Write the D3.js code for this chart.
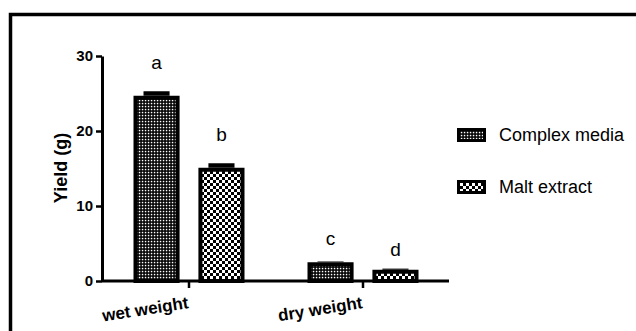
<!DOCTYPE html>
<html lang="en">
<head>
<meta charset="UTF-8">
<title>Yield</title>
<script src="https://cdn.jsdelivr.net/npm/d3@7"></script>
<style>
  body { margin: 0; background: #fff; }
  text { font-family: "Liberation Sans", Arial, sans-serif; }
</style>
</head>
<body>
<script>
// data
var groups = ["wet weight", "dry weight"];
var series = ["Complex media", "Malt extract"];
var complexVals = [24.7, 2.5];
var maltVals = [15.1, 1.5];
var complexErr = [0.6, 0.1];
var maltErr = [0.6, 0.15];
var letters = [["a", "c"], ["b", "d"]];
var yTicks = [0, 10, 20, 30];

var W = 636, H = 331;

var svg = d3.select("body").append("svg")
  .attr("width", W).attr("height", H);

var defs = svg.append("defs");

// fine dot pattern (Complex media)
var p1 = defs.append("pattern").attr("id", "dots")
  .attr("patternUnits", "userSpaceOnUse").attr("width", 3).attr("height", 3);
p1.append("rect").attr("width", 3).attr("height", 3).attr("fill", "#000");
p1.append("rect").attr("x", 0.8).attr("y", 0.8).attr("width", 1.5).attr("height", 1.5).attr("fill", "#fff");

// checkerboard (Malt extract)
var p2 = defs.append("pattern").attr("id", "checks")
  .attr("patternUnits", "userSpaceOnUse").attr("width", 6).attr("height", 6);
p2.append("rect").attr("width", 6).attr("height", 6).attr("fill", "#000");
p2.append("rect").attr("x", 0).attr("y", 0).attr("width", 3).attr("height", 3).attr("fill", "#fff");
p2.append("rect").attr("x", 3).attr("y", 3).attr("width", 3).attr("height", 3).attr("fill", "#fff");

var fills = ["url(#dots)", "url(#checks)"];

// outer frame
svg.append("rect")
  .attr("x", 10.5).attr("y", 14.5)
  .attr("width", 700).attr("height", 400)
  .attr("fill", "none").attr("stroke", "#000").attr("stroke-width", 3.5);

var y = d3.scaleLinear().domain([0, 30]).range([281, 56]);
var x0 = d3.scalePoint().domain(groups).range([189, 363]);
var x1 = d3.scaleBand().domain(series).range([-55.5, 55.5]).paddingInner(0.29);

var vals = [complexVals, maltVals];
var errs = [complexErr, maltErr];

var bars = [];
series.forEach(function(s, si) {
  groups.forEach(function(g, gi) {
    bars.push({ s: s, si: si, g: g, gi: gi, v: vals[si][gi], e: errs[si][gi], l: letters[si][gi] });
  });
});

var sw = 4;
var bx = function(d) { return x0(d.g) + x1(d.s); };

// error bars
svg.selectAll(".err").data(bars).enter().append("rect")
  .attr("x", function(d) { return bx(d) + 10; })
  .attr("width", x1.bandwidth() - 20)
  .attr("y", function(d) { return y(d.v + d.e); })
  .attr("height", function(d) { return y(d.v) - y(d.v + d.e); })
  .attr("fill", "#000");

svg.selectAll(".bar").data(bars).enter().append("rect")
  .attr("x", function(d) { return bx(d) + sw / 2; })
  .attr("width", x1.bandwidth() - sw)
  .attr("y", function(d) { return y(d.v) + sw / 2; })
  .attr("height", function(d) { return y(0) - y(d.v) - sw / 2; })
  .attr("fill", function(d) { return fills[d.si]; })
  .attr("stroke", "#000").attr("stroke-width", sw);

// letters above bars (gap from the error bar top)
var letterGap = [[22, 17], [22, 13]];
svg.selectAll(".lab").data(bars).enter().append("text")
  .attr("x", function(d) { return bx(d) + x1.bandwidth() / 2; })
  .attr("y", function(d) { return y(d.v + d.e) - letterGap[d.si][d.gi]; })
  .attr("text-anchor", "middle")
  .attr("font-size", 19)
  .text(function(d) { return d.l; });

// y axis
var yAxis = svg.append("g").attr("transform", "translate(102,0)")
  .call(d3.axisLeft(y).tickValues(yTicks).tickSize(6).tickPadding(3).tickSizeOuter(0));
yAxis.select(".domain").attr("stroke-width", 3);
yAxis.selectAll(".tick line").attr("stroke-width", 2.5);
yAxis.selectAll(".tick text")
  .attr("font-family", "Liberation Sans, Arial, sans-serif")
  .attr("font-size", 15).attr("font-weight", "bold").attr("fill", "#000");

// x axis
var xAxisScale = d3.scaleLinear().domain([0, 1]).range([102, 449]);
var xAxis = svg.append("g").attr("transform", "translate(0," + y(0) + ")");
xAxis.append("line")
  .attr("x1", xAxisScale(0)).attr("x2", xAxisScale(1))
  .attr("stroke", "#000").attr("stroke-width", 3);
xAxis.selectAll(".xt").data(groups).enter().append("line")
  .attr("x1", function(d) { return x0(d); }).attr("x2", function(d) { return x0(d); })
  .attr("y1", 0).attr("y2", 7)
  .attr("stroke", "#000").attr("stroke-width", 2.5);
xAxis.selectAll(".xl").data(groups).enter().append("text")
  .attr("transform", function(d) { return "translate(" + x0(d) + ",27) rotate(-9)"; })
  .attr("text-anchor", "end")
  .attr("font-size", 17).attr("font-weight", "bold")
  .text(function(d) { return d; });

// y label
svg.append("text")
  .attr("transform", "translate(67,168) rotate(-90)")
  .attr("text-anchor", "middle")
  .attr("font-size", 18).attr("font-weight", "bold")
  .text("Yield (g)");

// legend
var leg = svg.selectAll(".leg").data(series).enter().append("g")
  .attr("transform", function(d, i) { return "translate(457," + (128 + i * 52) + ")"; });
leg.append("rect")
  .attr("x", 1.5).attr("y", 1.5).attr("width", 26).attr("height", 11)
  .attr("fill", function(d, i) { return fills[i]; })
  .attr("stroke", "#000").attr("stroke-width", 3);
leg.append("text")
  .attr("x", 42).attr("y", 13)
  .attr("font-size", 18)
  .text(function(d) { return d; });
</script>
</body>
</html>
